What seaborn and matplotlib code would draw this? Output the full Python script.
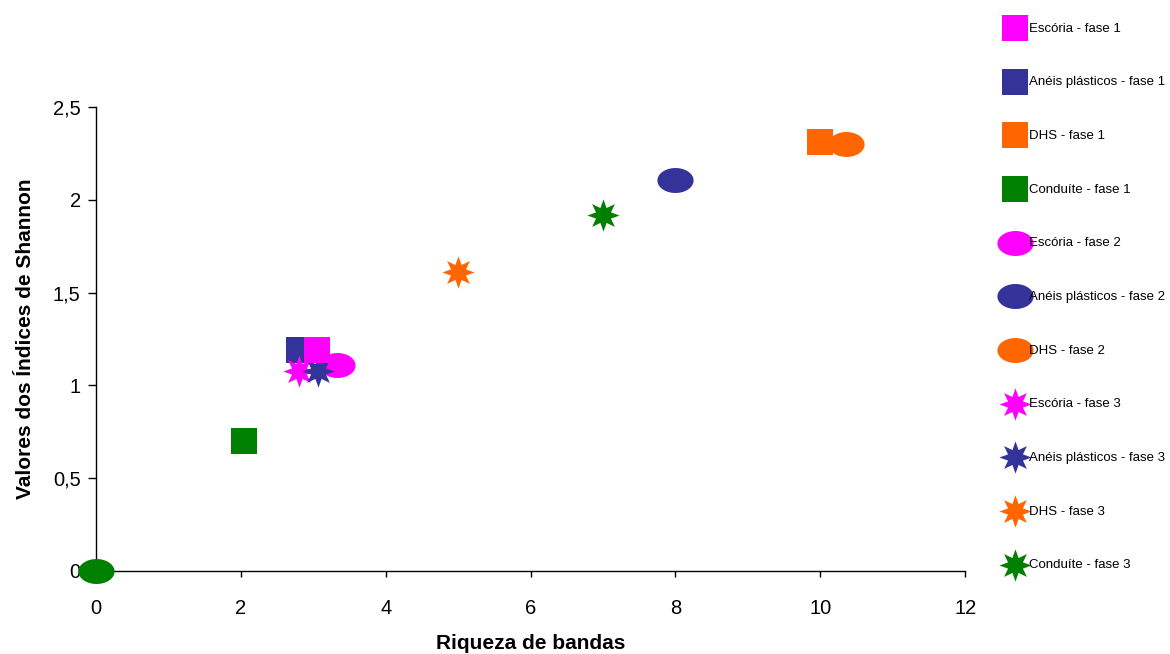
import numpy as np
import pandas as pd
import matplotlib
matplotlib.use("Agg")
import matplotlib.pyplot as plt
from matplotlib.path import Path
from matplotlib.ticker import FuncFormatter
import seaborn as sns

# ---- data ----
series_labels = [
    "Escória - fase 1", "Anéis plásticos - fase 1", "DHS - fase 1", "Conduíte - fase 1",
    "Escória - fase 2", "Anéis plásticos - fase 2", "DHS - fase 2", "Conduíte - fase 2",
    "Escória - fase 3", "Anéis plásticos - fase 3", "DHS - fase 3", "Conduíte - fase 3",
]
riqueza = [3.05, 2.8, 10.0, 2.05,
           3.33, 8.0, 10.35, 0.0,
           2.8, 3.07, 5.0, 7.0]
shannon = [1.19, 1.19, 2.31, 0.70,
           1.11, 2.11, 2.30, 0.0,
           1.08, 1.08, 1.61, 1.92]
fase = [1, 1, 1, 1, 2, 2, 2, 2, 3, 3, 3, 3]
in_legend = [True] * 7 + [False] + [True] * 4
series_colors = ["#FF00FF", "#333399", "#FF6600", "#008000"] * 3
x_ticks = [0, 2, 4, 6, 8, 10, 12]
y_ticks = [0, 0.5, 1, 1.5, 2, 2.5]

df = pd.DataFrame({"serie": series_labels, "x": riqueza, "y": shannon, "fase": fase})

# ---- markers ----
theta = np.linspace(0, 2 * np.pi, 60)
ellipse = Path(np.column_stack([1.45 * np.cos(theta), np.sin(theta)]), closed=True)
ang = np.pi / 2 + np.arange(16) * np.pi / 8
rad = np.where(np.arange(16) % 2 == 0, 1.0, 0.5)
star_verts = np.column_stack([rad * np.cos(ang), rad * np.sin(ang)])
star_verts = np.vstack([star_verts, star_verts[:1]])
star = Path(star_verts, closed=True)
marker_by_fase = {1: "s", 2: ellipse, 3: star}
size_by_fase = {1: 330, 2: 680, 3: 540}

sns.set_theme(style="white")
plt.rcParams["font.family"] = ["Liberation Sans", "DejaVu Sans"]
plt.rcParams.update({"text.color": "black", "axes.labelcolor": "black",
                     "xtick.color": "black", "ytick.color": "black"})

fig = plt.figure(figsize=(11.7, 6.54), dpi=100)
ax = fig.add_axes([0.082, 0.127, 0.743, 0.709])

for i, row in df.iterrows():
    z = 4 if i == 0 else 3
    lab = row["serie"] if in_legend[i] else "_" + row["serie"]
    sns.scatterplot(x=[row["x"]], y=[row["y"]], ax=ax, marker=marker_by_fase[row["fase"]],
                    s=size_by_fase[row["fase"]], color=series_colors[i], linewidth=0,
                    label=lab, zorder=z + i * 0.01, clip_on=False)

ax.set_xlim(0, 12)
ax.set_ylim(0, 2.5)
ax.set_xticks(x_ticks)
ax.set_yticks(y_ticks)
fmt = FuncFormatter(lambda v, p: ("%g" % v).replace(".", ","))
ax.xaxis.set_major_formatter(fmt)
ax.yaxis.set_major_formatter(fmt)
for s in ["top", "right"]:
    ax.spines[s].set_visible(False)
for s in ["left", "bottom"]:
    ax.spines[s].set_color("black")
    ax.spines[s].set_linewidth(1.0)
ax.tick_params(axis="x", which="major", direction="out", length=4, width=1,
               labelsize=14.5, pad=16, bottom=True)
ax.tick_params(axis="y", which="major", direction="out", length=6, width=1,
               labelsize=14.5, pad=5, left=True)
ax.set_xlabel("Riqueza de bandas", fontsize=15, fontweight="bold", labelpad=12)
ax.set_ylabel("Valores dos Índices de Shannon", fontsize=15, fontweight="bold", labelpad=13)
ax.grid(False)

handles, labels = ax.get_legend_handles_labels()
ax.get_legend().remove()
leg = fig.legend(handles, labels, loc="upper left", bbox_to_anchor=(0.854, 0.974),
                 frameon=False, labelspacing=3.14, handletextpad=0.25,
                 handlelength=1.6, borderaxespad=0,
                 prop={"family": ["Liberation Sans"], "size": 9.5})

fig.savefig("out.png", dpi=100)
